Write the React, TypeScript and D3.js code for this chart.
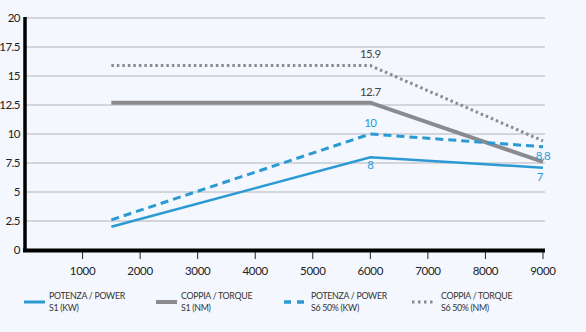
import React from "react";
import * as d3 from "d3";

const rpm = [1500, 6000, 9000];
const powerS1 = [2, 8, 7.1];
const torqueS1 = [12.7, 12.7, 7.6];
const powerS6 = [2.6, 10, 8.9];
const torqueS6 = [15.9, 15.9, 9.4];
const xTicks = [1000, 2000, 3000, 4000, 5000, 6000, 7000, 8000, 9000];
const yTicks = [0, 2.5, 5, 7.5, 10, 12.5, 15, 17.5, 20];
const legendLabels = [
  ["POTENZA / POWER", "S1 (KW)"],
  ["COPPIA / TORQUE", "S1 (NM)"],
  ["POTENZA / POWER", "S6 50% (KW)"],
  ["COPPIA / TORQUE", "S6 50% (NM)"],
];
const valueLabels = [
  { x: 6000, v: "15.9", y: 15.9, dy: -8, color: "#444" },
  { x: 6000, v: "12.7", y: 12.7, dy: -7, color: "#444" },
  { x: 6000, v: "10", y: 10, dy: -7, color: "#2b9ad3" },
  { x: 6000, v: "8", y: 8, dy: 12, color: "#2b9ad3" },
];

const BLUE = "#2b9ad3";
const GRAY = "#8a8a8f";
const FONT = "Lato, 'Open Sans', sans-serif";

export default function App() {
  const W = 586, H = 332;
  const x = d3.scaleLinear().domain([0, 9000]).range([25, 543]);
  const y = d3.scaleLinear().domain([0, 20]).range([250, 18]);
  const line = (vals: number[]) =>
    d3.line<number>().x((_, i) => x(rpm[i])).y((d) => y(d))(vals) || "";

  const legX = [24, 156, 284, 412];
  return (
    <svg width={W} height={H} style={{ position: "absolute", left: 0, top: 0, background: "#f4f7fd", fontFamily: FONT }}>
      <rect width={W} height={H} fill="#f4f7fd" />
      {yTicks.map((t) => (
        <g key={t}>
          {t > 0 && <line x1={25} x2={545} y1={y(t)} y2={y(t)} stroke="#b4b4bc" strokeWidth={1} />}
          <text x={20} y={y(t)} dy="0.35em" textAnchor="end" fontSize={11.5} fill="#222" letterSpacing={-0.5}>
            {t}
          </text>
        </g>
      ))}
      {xTicks.map((t) => (
        <g key={t}>
          <line x1={x(t)} x2={x(t)} y1={250} y2={259} stroke="#222" strokeWidth={1} />
          <text x={x(t)} y={271} dy="0.35em" textAnchor="middle" fontSize={11.5} fill="#222" letterSpacing={-0.3}>
            {t}
          </text>
        </g>
      ))}
      <line x1={25} x2={25} y1={17} y2={252} stroke="#000" strokeWidth={3.5} />
      <line x1={23} x2={545} y1={250.5} y2={250.5} stroke="#000" strokeWidth={4} />

      <path d={line(torqueS6)} fill="none" stroke={GRAY} strokeWidth={3} strokeDasharray="2.5 3" />
      <path d={line(torqueS1)} fill="none" stroke={GRAY} strokeWidth={4} />
      <path d={line(powerS6)} fill="none" stroke={BLUE} strokeWidth={3} strokeDasharray="8 5" />
      <path d={line(powerS1)} fill="none" stroke={BLUE} strokeWidth={2.5} />

      {valueLabels.map((l, i) => (
        <text key={i} x={x(l.x)} y={y(l.y) + l.dy} textAnchor="middle" fontSize={11.5} fill={l.color} letterSpacing={-0.5}>
          {l.v}
        </text>
      ))}
      <text x={x(9000)} y={y(powerS6[2]) + 13} textAnchor="middle" fontSize={11.5} fill={BLUE} letterSpacing={-0.5}>8.8</text>
      <text x={x(9000) - 3} y={y(powerS1[2]) + 13} textAnchor="middle" fontSize={11.5} fill={BLUE}>7</text>

      {legendLabels.map((lab, i) => (
        <g key={i} transform={`translate(${legX[i]},0)`}>
          {i === 0 && <line x1={0} x2={21} y1={302} y2={302} stroke={BLUE} strokeWidth={3} />}
          {i === 1 && <line x1={0} x2={21} y1={302} y2={302} stroke={GRAY} strokeWidth={4} />}
          {i === 2 && <line x1={0} x2={21} y1={302} y2={302} stroke={BLUE} strokeWidth={3.5} strokeDasharray="7 6" />}
          {i === 3 && <line x1={0} x2={24} y1={302} y2={302} stroke={GRAY} strokeWidth={3} strokeDasharray="2.5 3.5" />}
          <text x={i === 3 ? 29 : i === 2 ? 27 : 25} y={296} dy="0.35em" fontSize={8.8} fill="#333" letterSpacing={-0.3}>{lab[0]}</text>
          <text x={i === 3 ? 29 : i === 2 ? 27 : 25} y={308} dy="0.35em" fontSize={8.8} fill="#333" letterSpacing={-0.3}>{lab[1]}</text>
        </g>
      ))}
    </svg>
  );
}
